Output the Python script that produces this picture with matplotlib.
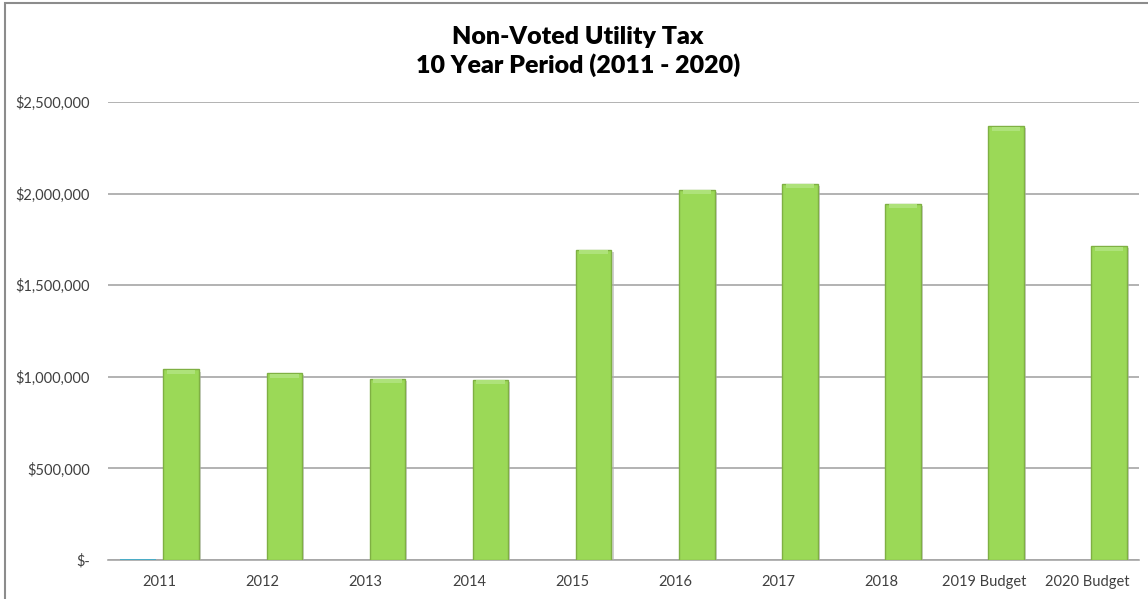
import matplotlib.pyplot as plt
import matplotlib.ticker as mticker
import matplotlib.patheffects as pe
from matplotlib.patches import Rectangle
import numpy as np

# Datos del grafico
categorias = ['2011', '2012', '2013', '2014', '2015', '2016', '2017', '2018',
              '2019 Budget', '2020 Budget']
serie_1 = [8000, 0, 0, 0, 0, 0, 0, 0, 0, 0]
impuesto = [1040000, 1020000, 990000, 985000, 1692000, 2022000, 2055000, 1943000,
            2367000, 1712000]
y_ticks = [0, 500000, 1000000, 1500000, 2000000, 2500000]

plt.rcParams['font.family'] = ['Lato', 'DejaVu Sans']

fig = plt.figure(figsize=(11.48, 5.99), dpi=100)
ax = fig.add_axes([0.0941, 0.0651, 0.8981, 0.7646])

# Borde del area del grafico
fig.patches.append(Rectangle((5 / 1148, -0.1), 1.2, 1.1 - 3.5 / 599, transform=fig.transFigure,
                             fill=False, edgecolor='#8c8c8c', linewidth=1.5))

x = np.arange(len(categorias))
ancho = 0.345
desp = 0.21

ax.bar(x - desp, serie_1, ancho, color='#4BACC6', zorder=3)

barras = ax.bar(x + desp, impuesto, ancho, color='#9BD957', edgecolor='#7FB043',
                linewidth=1.0, zorder=3)
for b in barras:
    b.set_path_effects([pe.SimplePatchShadow(offset=(1.5, -1.5), shadow_rgbFace='#b0b0b0', alpha=0.6),
                        pe.Normal()])

# Efecto de bisel en la parte superior
bisel = 22000
ax.bar(x + desp, [bisel] * len(impuesto), ancho * 0.8,
       bottom=[v - bisel * 1.1 for v in impuesto], color='#AEE27A', linewidth=0, zorder=4)

ax.set_xlim(-0.5, len(categorias) - 0.5)
ax.set_ylim(0, 2500000)
ax.set_yticks(y_ticks)
ax.yaxis.set_major_formatter(mticker.FuncFormatter(lambda v, _: '$-' if v == 0 else f'${v:,.0f}'))
ax.set_xticks(x)
ax.set_xticklabels(categorias)

ax.grid(axis='y', color='#a6a6a6', linewidth=1.2, zorder=0)
ax.set_axisbelow(True)
for s in ['top', 'right', 'left']:
    ax.spines[s].set_visible(False)
ax.spines['bottom'].set_color('#a6a6a6')
ax.spines['bottom'].set_linewidth(1.2)
ax.tick_params(axis='both', length=0, labelsize=10.5, labelcolor='#404040')
ax.tick_params(axis='y', pad=13)
ax.tick_params(axis='x', pad=11)

fig.text(0.5035, 0.914, 'Non-Voted Utility Tax\n10 Year Period (2011 - 2020)', ha='center', va='center',
         fontsize=18, fontweight='heavy', linespacing=1.3)

fig.savefig('out.png', dpi=100)
